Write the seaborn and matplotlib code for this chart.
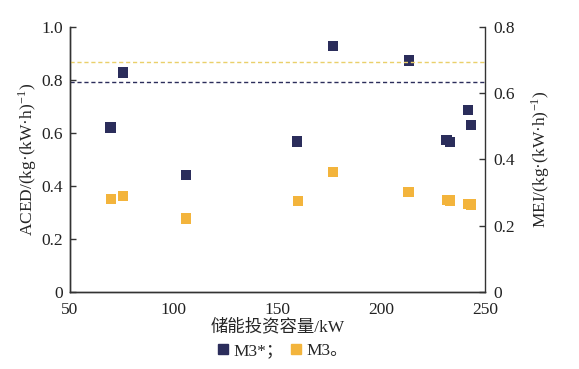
import numpy as np
import pandas as pd
import matplotlib
matplotlib.use("Agg")
import matplotlib.pyplot as plt
import seaborn as sns
from matplotlib.lines import Line2D

# data
cap_m3s = [69.5, 75.5, 106.0, 159.5, 176.6, 213.2, 231.3, 233.0, 241.8, 243.1]
aced_m3s = [0.621, 0.828, 0.441, 0.568, 0.929, 0.873, 0.574, 0.566, 0.687, 0.629]
cap_m3 = [69.7, 75.6, 106.0, 159.7, 176.6, 213.1, 231.5, 233.0, 241.8, 243.0]
mei_m3 = [0.281, 0.290, 0.222, 0.274, 0.362, 0.301, 0.278, 0.276, 0.265, 0.264]
ref_aced = 0.794
ref_mei = 0.695

navy = "#2b2d5b"
orange = "#f3b43c"
yellow_line = "#ead06a"

sns.set_style("white")
plt.rcParams["font.family"] = ["Liberation Serif", "Noto Sans CJK SC"]
plt.rcParams["mathtext.fontset"] = "stix"
fs = 12.5

fig = plt.figure(figsize=(5.79, 3.69), dpi=100)
ax = fig.add_axes([0.121, 0.209, 0.717, 0.718])
ax2 = ax.twinx()

df1 = pd.DataFrame({"cap": cap_m3s, "val": aced_m3s})
df2 = pd.DataFrame({"cap": cap_m3, "val": mei_m3})

ax.axhline(ref_aced, color=navy, ls=(0, (3, 2)), lw=1, zorder=1)
ax2.axhline(ref_mei, color=yellow_line, ls=(0, (3, 2)), lw=1, zorder=1)

sns.scatterplot(data=df1, x="cap", y="val", ax=ax, marker="s", s=55,
                color=navy, edgecolor="none", zorder=3)
sns.scatterplot(data=df2, x="cap", y="val", ax=ax2, marker="s", s=55,
                color=orange, edgecolor="none", zorder=3)

ax.set_xlim(50, 250)
ax.set_ylim(0, 1.0)
ax2.set_ylim(0, 0.8)
ax.set_xticks([50, 100, 150, 200, 250])
ax.set_yticks([0, 0.2, 0.4, 0.6, 0.8, 1.0])
ax.set_yticklabels(["0", "0.2", "0.4", "0.6", "0.8", "1.0"])
ax2.set_yticks([0, 0.2, 0.4, 0.6, 0.8])
ax2.set_yticklabels(["0", "0.2", "0.4", "0.6", "0.8"])

ax.set_xlabel("储能投资容量/kW", fontsize=fs, labelpad=1)
ax.set_ylabel("ACED/(kg·(kW·h)$^{\\mathregular{-1}}$)", fontsize=fs, labelpad=2)
ax2.set_ylabel("MEI/(kg·(kW·h)$^{\\mathregular{-1}}$)", fontsize=fs, labelpad=10)

for a in (ax, ax2):
    a.spines["top"].set_visible(False)
    for sp in a.spines.values():
        sp.set_color("#333333")
        sp.set_linewidth(1)
    a.tick_params(direction="in", length=4, width=1, colors="#333333",
                  labelcolor="#222222", labelsize=fs)
ax.spines["right"].set_visible(False)
ax.tick_params(axis="x", pad=7)
ax.tick_params(axis="y", pad=5)
ax2.tick_params(axis="y", pad=6)

handles = [
    Line2D([], [], marker="s", ls="none", color=navy, markersize=7.5),
    Line2D([], [], marker="s", ls="none", color=orange, markersize=7.5),
]
fig.legend(handles, ["M3*；", "M3。"], loc="center", bbox_to_anchor=(0.485, 0.048),
           ncol=2, frameon=False, fontsize=fs, handletextpad=0.1,
           columnspacing=0.2, handlelength=1.0)

fig.savefig("out.png", dpi=100)
